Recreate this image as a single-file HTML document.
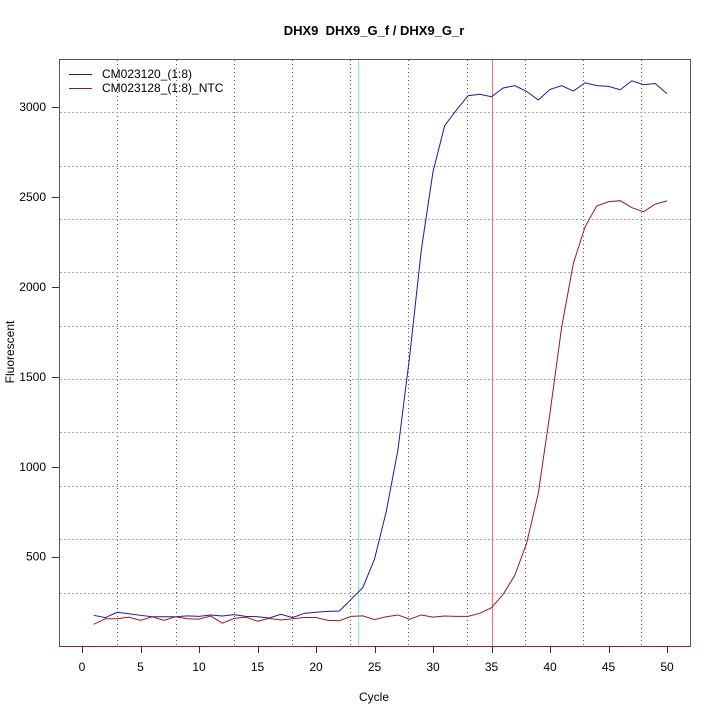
<!DOCTYPE html>
<html><head><meta charset="utf-8"><style>
html,body{margin:0;padding:0;background:#fff;}
svg{display:block;font-family:"Liberation Sans",Arial,sans-serif;}
</style></head><body>
<svg id="chart" width="720" height="720" viewBox="0 0 720 720" xmlns="http://www.w3.org/2000/svg">
<text x="374" y="35" text-anchor="middle" font-size="13" font-weight="bold" style="white-space:pre" xml:space="preserve">DHX9  DHX9_G_f / DHX9_G_r</text>
<g id="grid"></g>
<g id="series"></g>
<rect x="59.5" y="59.5" width="631" height="587" fill="none" stroke="#555" stroke-width="1"/>
<line x1="59" y1="646.5" x2="691" y2="646.5" stroke="#a02020" stroke-width="1"/>
<g id="axes"></g>
<text x="374" y="701" text-anchor="middle" font-size="12">Cycle</text>
<text x="14" y="352" text-anchor="middle" font-size="12" transform="rotate(-90 14 352)">Fluorescent</text>
<g>
<line x1="69" y1="74.5" x2="92" y2="74.5" stroke="#1a1aa0" stroke-width="1"/>
<text x="102" y="78" font-size="12">CM023120_(1:8)</text>
<line x1="69" y1="88.5" x2="92" y2="88.5" stroke="#a01818" stroke-width="1"/>
<text x="102" y="92" font-size="12">CM023128_(1:8)_NTC</text>
</g>
</svg>
<script>
const cycles = Array.from({length:50},(_,i)=>i+1);
const sampleValues = [174,161,191,183,174,166,166,166,171,168,176,170,178,168,166,159,180,161,185,191,196,198,263,328,486,750,1093,1612,2206,2641,2898,2984,3064,3072,3058,3107,3120,3088,3040,3099,3120,3090,3136,3120,3116,3097,3147,3125,3132,3075];
const ntcValues = [124,155,155,164,146,166,146,166,155,153,170,130,157,164,141,157,148,155,162,162,146,144,168,171,150,166,176,152,176,164,170,168,168,185,216,291,398,574,853,1300,1779,2132,2335,2451,2474,2480,2441,2419,2461,2479];
const xTicks = [0,5,10,15,20,25,30,35,40,45,50];
const yTicks = [500,1000,1500,2000,2500,3000];
const xGrid = [3.03,8.0,12.97,17.95,22.9,27.9,32.9,37.85,42.85,47.8];
const yGrid = [300,597,891,1192,1488,1783,2082,2376,2675,2973];
const thresholdCycles = [23.55, 35.05];

const NS="http://www.w3.org/2000/svg";
const xs = c => 82 + c*11.7;
const ys = v => 556.7 - (v-500)*0.1798;
const px = v => Math.round(v)+0.5;
function mk(tag, attrs, parent){const e=document.createElementNS(NS,tag);for(const k in attrs)e.setAttribute(k,attrs[k]);parent.appendChild(e);return e;}
const grid=document.getElementById('grid'), axes=document.getElementById('axes'), series=document.getElementById('series');

xGrid.forEach(c=>{const l=mk('line',{x1:px(xs(c)),y1:60,x2:px(xs(c)),y2:646,stroke:'#555','stroke-width':1,'stroke-dasharray':'1,3'},grid);

});
yGrid.forEach(v=>{const l=mk('line',{x1:60,y1:px(ys(v)),x2:690,y2:px(ys(v)),stroke:'#aaa','stroke-width':1,'stroke-dasharray':'2,2'},grid);

});

const t1=mk('line',{x1:px(xs(thresholdCycles[0])),y1:60,x2:px(xs(thresholdCycles[0])),y2:646,stroke:'#7fe8f4','stroke-width':1},series);


const t2=mk('line',{x1:px(xs(thresholdCycles[1])),y1:60,x2:px(xs(thresholdCycles[1])),y2:646,stroke:'#f07070','stroke-width':1},series);



const p1=mk('polyline',{points:cycles.map((c,i)=>xs(c)+','+ys(sampleValues[i])).join(' '),fill:'none',stroke:'#1a1aa0','stroke-width':1},series);


const p2=mk('polyline',{points:cycles.map((c,i)=>xs(c)+','+ys(ntcValues[i])).join(' '),fill:'none',stroke:'#a01818','stroke-width':1},series);



xTicks.forEach(t=>{const l=mk('line',{x1:px(xs(t)),y1:646,x2:px(xs(t)),y2:653,stroke:'#333'},axes);


const tx=mk('text',{x:xs(t),y:671,'text-anchor':'middle','font-size':12},axes);tx.textContent=t;

});
yTicks.forEach(t=>{const l=mk('line',{x1:52,y1:px(ys(t)),x2:59,y2:px(ys(t)),stroke:'#333'},axes);


const tx=mk('text',{x:46,y:ys(t)+4,'text-anchor':'end','font-size':12},axes);tx.textContent=t;

});
</script>
</body></html>
